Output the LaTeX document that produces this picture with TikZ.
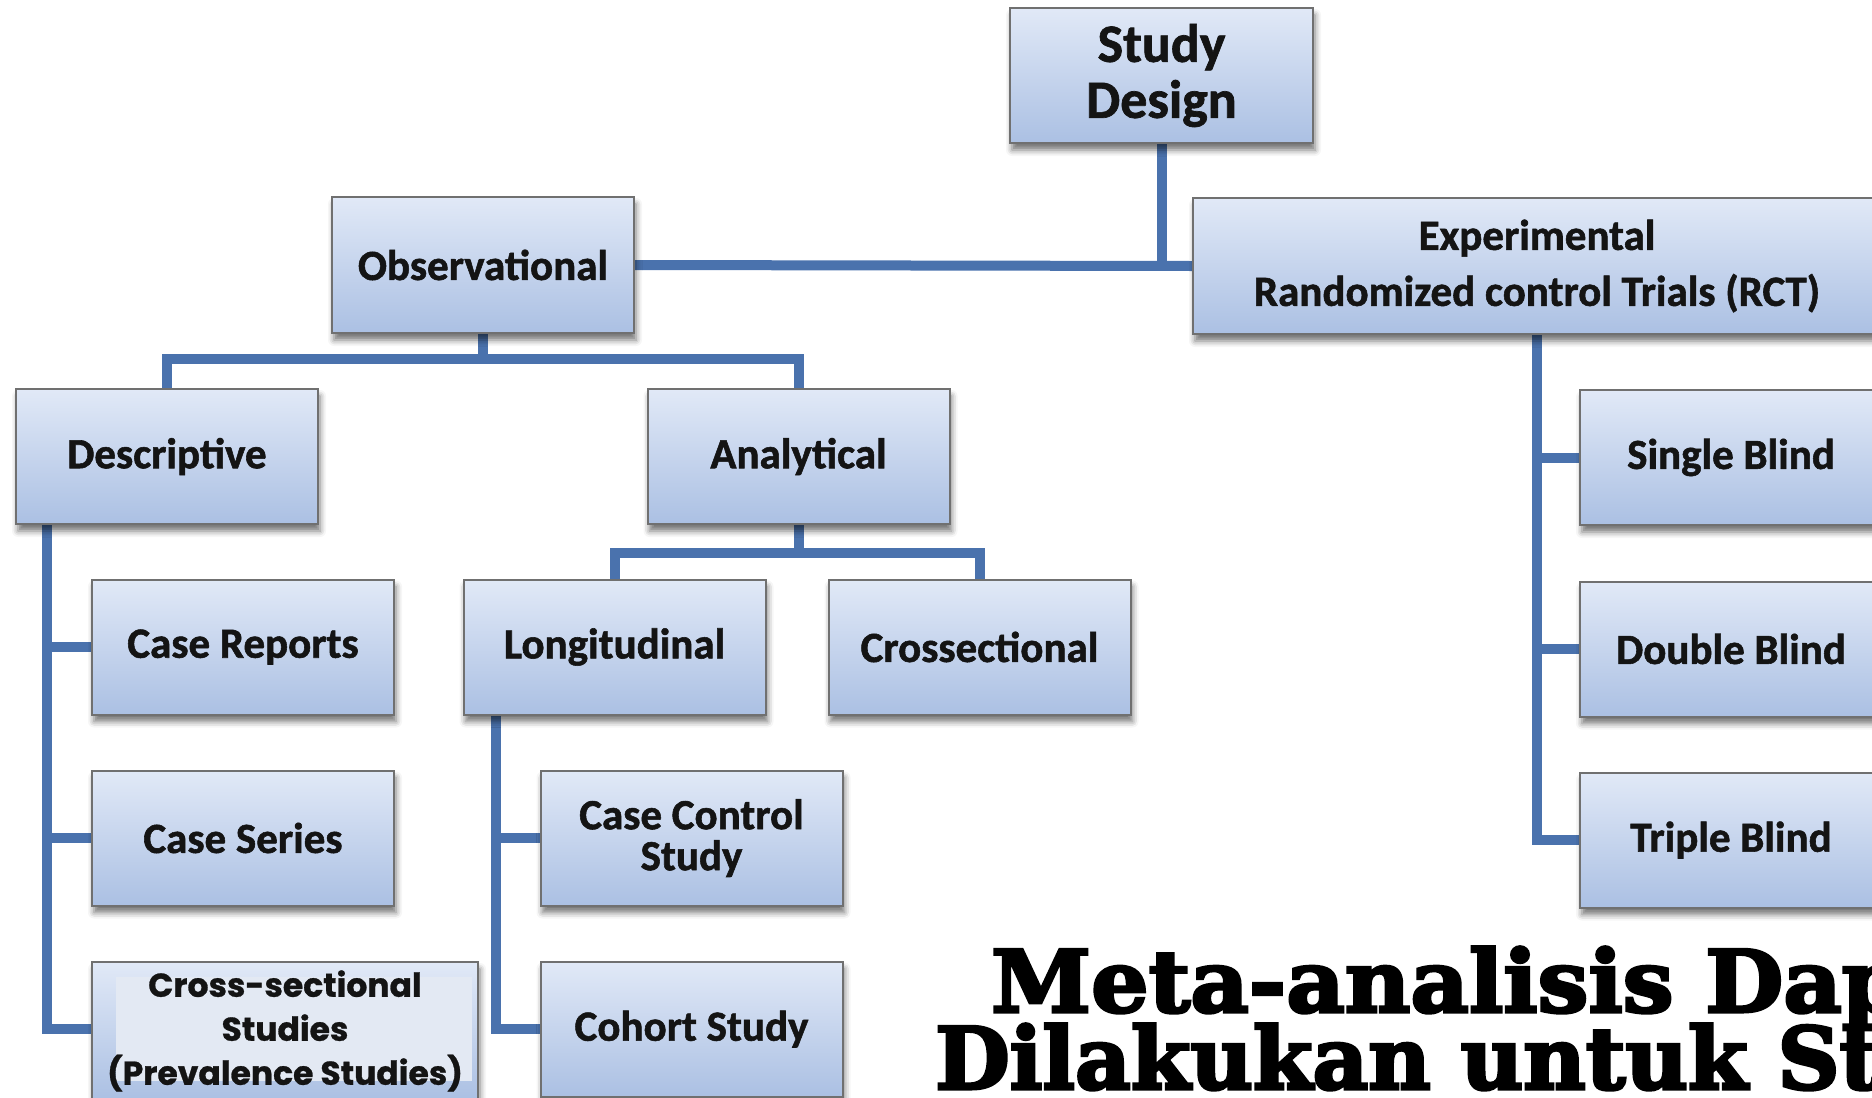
\documentclass[tikz,border=0pt]{standalone}
\usepackage{fontspec}
\usetikzlibrary{backgrounds,shadows.blur,calc}
\newfontfamily\calfont{Carlito}[BoldFont={Carlito Bold}, BoldFeatures={FakeBold=1.3}]
\newfontfamily\geofont{Poppins}[BoldFont={Poppins Bold}, BoldFeatures={FakeBold=0.8}]
\newfontfamily\slabfont{DejaVu Serif}[BoldFont={DejaVu Serif Bold}, BoldFeatures={FakeBold=3.5, FakeStretch=1.05}]
\newfontfamily\slabfontn{DejaVu Serif}[BoldFont={DejaVu Serif Bold}, BoldFeatures={FakeBold=3.5, FakeStretch=1.0}]
\definecolor{linkblue}{HTML}{4A72AD}
\definecolor{boxtop}{HTML}{E1E9F7}
\definecolor{boxbot}{HTML}{ABC0E3}
\definecolor{boxedge}{HTML}{707070}
\definecolor{panel}{HTML}{E3E9F3}
\tikzset{
  box/.style={rectangle, draw=boxedge, line width=2pt,
    top color=boxtop, bottom color=boxbot,
    minimum width=302pt, minimum height=135pt, inner sep=0pt,
    align=center, text=black!92,
    font=\calfont\bfseries\fontsize{43}{44}\selectfont,
    blur shadow={shadow xshift=2pt, shadow yshift=-7pt,
      shadow blur radius=6pt, shadow opacity=55}},
  link/.style={draw=linkblue, line width=10pt},
  headline/.style={anchor=base west, inner sep=0pt, text=black,
    font=\slabfont\bfseries\fontsize{86}{86}\selectfont}
}
\begin{document}
\begin{tikzpicture}[x=1pt,y=-1pt]
\useasboundingbox (0,0) rectangle (1872,1098);
\clip (0,0) rectangle (1872,1098);

% top levels
\node[box, minimum width=303pt,
      font=\calfont\bfseries\fontsize{54}{56}\selectfont] (sd) at (1161.5,75.5) {Study\\Design};
\node[box, minimum height=136pt] (obs) at (483,265) {Observational};
\node[box, minimum width=688pt, minimum height=136pt] (exp) at (1537,266)
  {Experimental\\[12pt]Randomized control Trials (RCT)};

% observational branch
\node[box] (desc) at (167,456.5) {Descriptive};
\node[box] (ana) at (798.5,456.5) {Analytical};
\node[box] (caserep) at (243,647) {Case Reports};
\node[box] (caseser) at (243,838) {Case Series};
\node[box, minimum width=386pt, minimum height=138pt,
      font=\geofont\bfseries\fontsize{33}{44}\selectfont,
      path picture={\fill[panel]
        ([shift={(24,15)}]path picture bounding box.north west) rectangle
        ([shift={(-6,-19)}]path picture bounding box.south east);}]
      (cross) at (285,1031) {Cross-sectional\\Studies\\(Prevalence Studies)};
\node[box] (long) at (614.5,647) {Longitudinal};
\node[box] (crossec) at (979.5,647) {Crossectional};
\node[box, font=\calfont\bfseries\fontsize{43}{41}\selectfont] (cc) at (691.5,838) {Case Control\\Study};
\node[box] (cohort) at (691.5,1029) {Cohort Study};

% experimental branch
\node[box] (single) at (1731,457.5) {Single Blind};
\node[box] (double) at (1731,649) {Double Blind};
\node[box] (triple) at (1731,840) {Triple Blind};

% connectors
\begin{scope}[on background layer]
  \draw[link] (sd.south) -- (sd.south |- obs.east);
  \draw[link] (obs.east) -- (exp.west);
  \draw[link] (obs.south) -- ++(0,25) coordinate (objunc);
  \draw[link] (desc.north) |- (objunc) -| (ana.north);
  \draw[link] (ana.south) -- ++(0,28) coordinate (anjunc);
  \draw[link] (long.north) |- (anjunc) -| (crossec.north);

  \coordinate (dspine) at ([xshift=32pt]desc.south west);
  \draw[link] (dspine) |- ([yshift=2pt]cross.west);
  \draw[link] (dspine |- caserep.west) -- (caserep.west);
  \draw[link] (dspine |- caseser.west) -- (caseser.west);

  \coordinate (lspine) at ([xshift=33pt]long.south west);
  \draw[link] (lspine) |- (cohort.west);
  \draw[link] (lspine |- cc.west) -- (cc.west);

  \draw[link] (exp.south) |- (triple.west);
  \draw[link] (exp.south |- single.west) -- (single.west);
  \draw[link] (exp.south |- double.west) -- (double.west);
\end{scope}

% heading
\node[headline] (meta1) at (991,1012) {Meta-analisis Dap};
\node[headline, font=\slabfontn\bfseries\fontsize{86}{86}\selectfont] (meta2) at (935,1089) {Dilakukan untuk St};
\end{tikzpicture}
\end{document}
